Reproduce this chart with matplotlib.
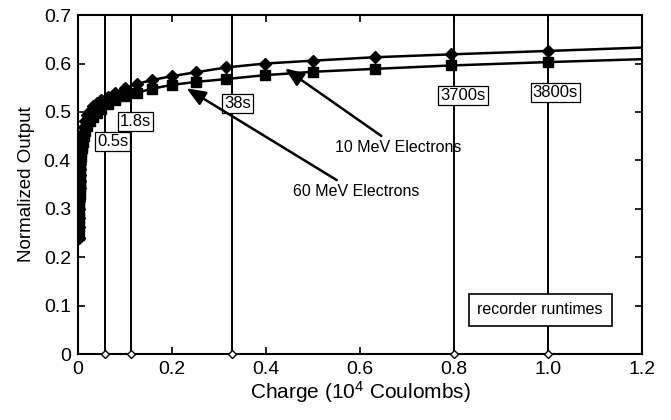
import numpy as np
import matplotlib
matplotlib.use("Agg")
import matplotlib.pyplot as plt

plt.rcParams['font.family'] = ['Liberation Sans', 'DejaVu Sans']
plt.rcParams['mathtext.default'] = 'regular'

# datos
carga = [0.003, 0.0031, 0.0032, 0.0033, 0.0034, 0.0035, 0.0036, 0.0038, 0.004,
         0.0043, 0.0046, 0.005, 0.0055, 0.006, 0.007, 0.008, 0.009, 0.01,
         0.0126, 0.0158, 0.02, 0.025, 0.0316, 0.0398, 0.05, 0.0631, 0.0794,
         0.1, 0.126, 0.158, 0.2, 0.251, 0.316, 0.398, 0.501, 0.631, 0.794, 1.0]
salida_10mev = [0.240, 0.262, 0.282, 0.300, 0.316, 0.330, 0.342, 0.358, 0.370,
                0.383, 0.393, 0.404, 0.414, 0.422, 0.434, 0.443, 0.450, 0.456,
                0.469, 0.481, 0.493, 0.503, 0.512, 0.519, 0.525, 0.531, 0.540,
                0.549, 0.558, 0.566, 0.574, 0.582, 0.592, 0.600, 0.606, 0.613, 0.619, 0.626]
salida_60mev = [0.245, 0.264, 0.280, 0.295, 0.308, 0.319, 0.329, 0.344, 0.356,
                0.369, 0.379, 0.390, 0.399, 0.407, 0.418, 0.426, 0.432, 0.438,
                0.450, 0.461, 0.471, 0.481, 0.490, 0.498, 0.506, 0.516, 0.524,
                0.532, 0.540, 0.548, 0.556, 0.562, 0.568, 0.576, 0.583, 0.589, 0.596, 0.603]
# extremo de las curvas ajustadas
carga_fin = [1.0, 1.2]
fin_10mev = [0.626, 0.633]
fin_60mev = [0.603, 0.609]

# tiempos de registro
tiempos_x = [0.058, 0.113, 0.327, 0.8, 1.0]
tiempos_txt = ["0.5s", "1.8s", "38s", "3700s", "3800s"]
etiqueta_x = [0.074, 0.123, 0.340, 0.819, 1.015]
etiqueta_y = [0.440, 0.481, 0.517, 0.533, 0.541]

fig = plt.figure(figsize=(6.71, 4.2), dpi=100)
ax = fig.add_axes([0.116, 0.157, 0.841, 0.807])

# lineas verticales
for x in tiempos_x:
    ax.plot([x, x], [0, 0.7], 'k-', lw=1.4, zorder=1)
ax.plot(tiempos_x, [0] * len(tiempos_x), 'D', ms=4.5, mfc='white', mec='k',
        mew=1.0, clip_on=False, zorder=5)

# curvas
ax.plot(carga, salida_10mev, 'k-', lw=1.8, marker='D', ms=6, zorder=3)
ax.plot(carga_fin, fin_10mev, 'k-', lw=1.8, zorder=3)
ax.plot(carga, salida_60mev, 'k-', lw=1.8, marker='s', ms=6.5, zorder=3)
ax.plot(carga_fin, fin_60mev, 'k-', lw=1.8, zorder=3)

caja = dict(boxstyle='square,pad=0.12', fc='white', ec='k', lw=0.9)
for x, y, t in zip(etiqueta_x, etiqueta_y, tiempos_txt):
    ax.text(x, y, t, ha='center', va='center', fontsize=12, bbox=caja,
            family=['Liberation Sans Narrow', 'Liberation Sans'], zorder=4)

ax.text(0.983, 0.091, "recorder runtimes", ha='center', va='center',
        fontsize=11.5, zorder=4,
        bbox=dict(boxstyle='square,pad=0.55', fc='white', ec='k', lw=1.2))

flecha = dict(arrowstyle='-|>,head_length=1.0,head_width=0.4', color='k', lw=1.8,
              shrinkA=2, shrinkB=0)
ax.annotate("10 MeV Electrons", xy=(0.44, 0.59), xytext=(0.547, 0.426),
            fontsize=11.5, ha='left', va='center', arrowprops=flecha, zorder=4)
ax.annotate("60 MeV Electrons", xy=(0.231, 0.549), xytext=(0.457, 0.335),
            fontsize=11.5, ha='left', va='center', arrowprops=flecha, zorder=4)

ax.set_xlim(0, 1.2)
ax.set_ylim(0, 0.7)
ax.set_xticks([0, 0.2, 0.4, 0.6, 0.8, 1.0, 1.2])
ax.set_xticklabels(["0", "0.2", "0.4", "0.6", "0.8", "1.0", "1.2"])
ax.set_yticks([0, 0.1, 0.2, 0.3, 0.4, 0.5, 0.6, 0.7])
ax.set_yticklabels(["0", "0.1", "0.2", "0.3", "0.4", "0.5", "0.6", "0.7"])
ax.tick_params(direction='in', top=True, right=True, length=5, width=1.2,
               labelsize=14, pad=5)
for s in ax.spines.values():
    s.set_linewidth(1.5)

ax.set_xlabel("Charge (10$^4$ Coulombs)", fontsize=15, labelpad=1)
ax.set_ylabel("Normalized Output", fontsize=13.5, labelpad=6)

fig.savefig("out.png", dpi=100)
